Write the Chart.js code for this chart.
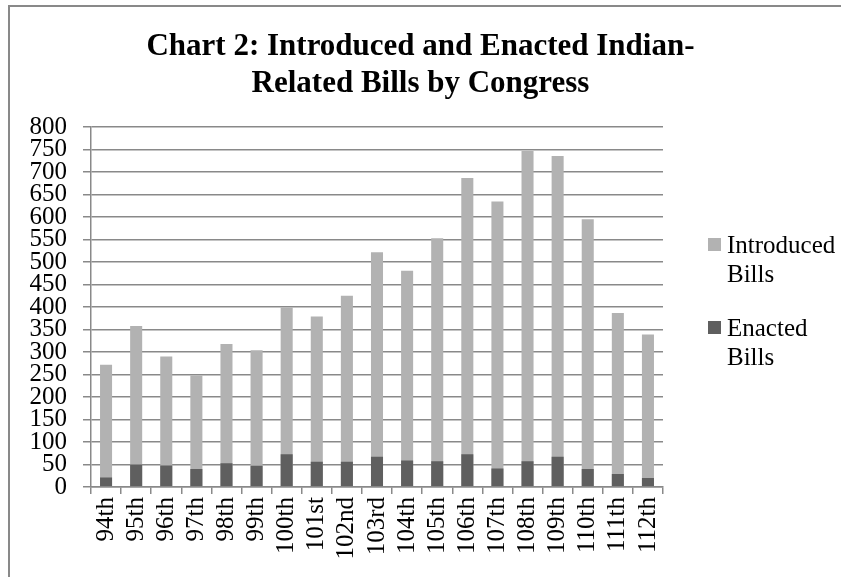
<!DOCTYPE html>
<html>
<head>
<meta charset="utf-8">
<script src="https://cdn.jsdelivr.net/npm/chart.js@4"></script>
<style>
  html, body { margin: 0; padding: 0; background: #fff; }
  #wrap { position: relative; width: 841px; height: 577px; }
</style>
</head>
<body>
<div id="wrap"><canvas id="bills-chart" width="841" height="577"></canvas></div>
<script>
const congresses = ['94th', '95th', '96th', '97th', '98th', '99th', '100th', '101st', '102nd', '103rd',
  '104th', '105th', '106th', '107th', '108th', '109th', '110th', '111th', '112th'];
const introducedBills = [272, 358, 290, 248, 318, 304, 399, 379, 425, 522, 481, 553, 687, 635, 747, 736, 595, 387, 339];
const enactedBills = [21, 50, 48, 40, 53, 47, 73, 56, 56, 67, 59, 57, 73, 41, 57, 67, 40, 29, 20];
const yTicks = { min: 0, max: 800, step: 50 };

const serif = "'Liberation Serif', 'Times New Roman', serif";
const gridColor = '#898989';

Chart.defaults.color = '#000';
Chart.defaults.font.family = serif;

// right-hand legend with the label wrapped onto two lines, plus the outer frame
const sideLegend = {
  id: 'sideLegend',
  afterDraw(chart) {
    const ctx = chart.ctx;
    ctx.save();
    ctx.strokeStyle = gridColor;
    ctx.lineWidth = 2;
    ctx.beginPath();
    ctx.moveTo(9, 577);
    ctx.lineTo(9, 6);
    ctx.lineTo(841, 6);
    ctx.stroke();

    ctx.font = `25px ${serif}`;
    ctx.textBaseline = 'alphabetic';
    ctx.textAlign = 'left';
    let baseline = 253;
    chart.data.datasets.forEach((ds) => {
      const words = ds.label.split(' ');
      ctx.fillStyle = ds.backgroundColor;
      ctx.fillRect(708, baseline - 15, 13, 13);
      ctx.fillStyle = '#000';
      words.forEach((w, i) => ctx.fillText(w, 727, baseline + i * 29));
      baseline += 83;
    });
    ctx.restore();
  }
};

new Chart(document.getElementById('bills-chart'), {
  type: 'bar',
  data: {
    labels: congresses,
    datasets: [
      { label: 'Introduced Bills', data: introducedBills, backgroundColor: '#b2b2b2', order: 1 },
      { label: 'Enacted Bills', data: enactedBills, backgroundColor: '#5f5f5f', order: 0 },
    ],
  },
  options: {
    responsive: false,
    animation: false,
    layout: { padding: 0 },
    datasets: {
      bar: { grouped: false, barPercentage: 0.4, categoryPercentage: 1.0 },
    },
    plugins: {
      legend: { display: false },
      tooltip: { enabled: false },
      title: {
        display: true,
        text: ['Chart 2: Introduced and Enacted Indian-', 'Related Bills by Congress'],
        font: { family: serif, size: 31, weight: 'bold', lineHeight: 1.18 },
        color: '#000',
        padding: { top: 29, bottom: 25 },
      },
    },
    scales: {
      x: {
        grid: { drawOnChartArea: false, offset: true, tickLength: 7, color: gridColor, lineWidth: 1.5 },
        border: { color: gridColor, width: 1.5 },
        ticks: { maxRotation: 90, minRotation: 90, autoSkip: false, padding: 3, font: { size: 25 } },
        afterFit(scale) { scale.height = 90; },
      },
      y: {
        min: yTicks.min,
        max: yTicks.max,
        grid: { tickLength: 8, color: gridColor, lineWidth: 1.5 },
        border: { color: gridColor, width: 1.5 },
        ticks: { stepSize: yTicks.step, autoSkip: false, padding: 16, font: { size: 25 } },
        afterFit(scale) { scale.width = 91; },
      },
      // empty strip on the right that leaves room for the legend
      legendSpace: {
        type: 'linear',
        position: 'right',
        grid: { display: false },
        border: { display: false },
        ticks: { display: false },
        afterFit(scale) { scale.width = 178; },
      },
    },
  },
  plugins: [sideLegend],
});
</script>
</body>
</html>
